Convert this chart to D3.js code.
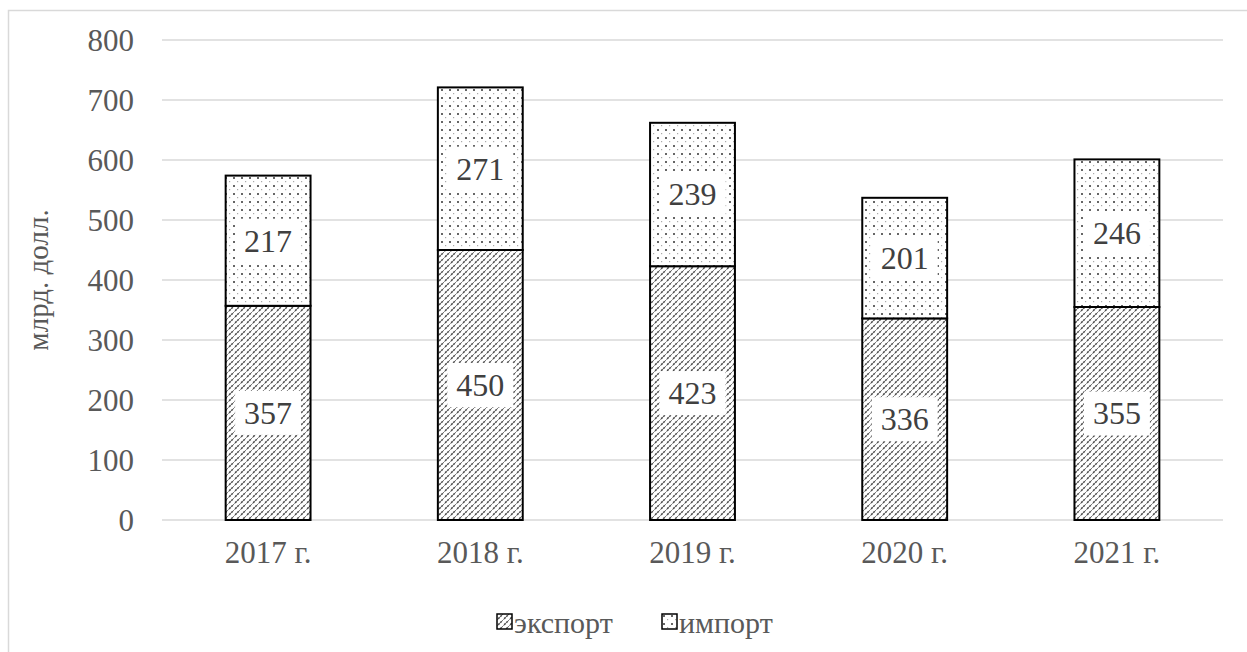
<!DOCTYPE html>
<html>
<head>
<meta charset="utf-8">
<script src="https://cdn.jsdelivr.net/npm/d3@7"></script>
<style>
  body { margin: 0; background: #fff; }
</style>
</head>
<body>
<div id="chart"></div>
<script>
// data
const years = ["2017 г.", "2018 г.", "2019 г.", "2020 г.", "2021 г."];
const exportVals = [357, 450, 423, 336, 355];
const importVals = [217, 271, 239, 201, 246];
const yTicks = [0, 100, 200, 300, 400, 500, 600, 700, 800];
const seriesNames = ["экспорт", "импорт"];

const W = 1247, H = 652;
const plot = {left: 162, right: 1223, top: 40, bottom: 520};
const FONT = "'Liberation Serif', 'Times New Roman', serif";

const svg = d3.select("#chart").append("svg")
    .attr("width", W)
    .attr("height", H)
    .attr("font-family", FONT)
    .style("display", "block");

const defs = svg.append("defs");

// diagonal hatch for export
const hatch = defs.append("pattern")
    .attr("id", "hatch")
    .attr("patternUnits", "userSpaceOnUse")
    .attr("width", 6)
    .attr("height", 6);
hatch.append("rect").attr("width", 6).attr("height", 6).attr("fill", "#fff");
hatch.append("path")
    .attr("d", "M-1,7 L7,-1 M-4,3 L3,-4 M3,10 L10,3")
    .attr("stroke", "#4a4a4a")
    .attr("stroke-width", 1.5)
    .attr("stroke-dasharray", "2.2,0.8");

// dotted fill for import
const dots = defs.append("pattern")
    .attr("id", "dots")
    .attr("patternUnits", "userSpaceOnUse")
    .attr("width", 8)
    .attr("height", 8);
dots.append("rect").attr("width", 8).attr("height", 8).attr("fill", "#fff");
dots.append("rect").attr("x", 1).attr("y", 1).attr("width", 2).attr("height", 2).attr("fill", "#666");
dots.append("rect").attr("x", 5).attr("y", 5).attr("width", 1.2).attr("height", 1.2).attr("fill", "#aaa");

// chart border
svg.append("rect")
    .attr("x", 8.5).attr("y", 10.5)
    .attr("width", W).attr("height", H)
    .attr("fill", "none")
    .attr("stroke", "#d9d9d9")
    .attr("stroke-width", 1.5);

const x = d3.scaleBand()
    .domain(years)
    .range([plot.left, plot.right])
    .paddingInner(0.6)
    .paddingOuter(0.3);

const y = d3.scaleLinear()
    .domain([0, 800])
    .range([plot.bottom, plot.top]);

// gridlines
svg.append("g")
    .selectAll("line")
    .data(yTicks)
    .join("line")
    .attr("x1", plot.left)
    .attr("x2", plot.right)
    .attr("y1", d => y(d))
    .attr("y2", d => y(d))
    .attr("stroke", "#d9d9d9")
    .attr("stroke-width", 1.5);

// y tick labels
svg.append("g")
    .selectAll("text")
    .data(yTicks)
    .join("text")
    .attr("x", 134)
    .attr("y", d => y(d))
    .attr("dy", "0.34em")
    .attr("text-anchor", "end")
    .attr("font-size", 31)
    .attr("fill", "#595959")
    .text(d => d);

// x labels
svg.append("g")
    .selectAll("text")
    .data(years)
    .join("text")
    .attr("x", d => x(d) + x.bandwidth() / 2)
    .attr("y", 563)
    .attr("text-anchor", "middle")
    .attr("font-size", 31)
    .attr("fill", "#595959")
    .text(d => d);

// y axis title
svg.append("text")
    .attr("transform", `translate(48,${(plot.top + plot.bottom) / 2}) rotate(-90)`)
    .attr("text-anchor", "middle")
    .attr("font-size", 29)
    .attr("fill", "#595959")
    .text("млрд. долл.");

const stackData = years.map((yr, i) => ({year: yr, exp: exportVals[i], imp: importVals[i]}));

const bars = svg.append("g");
// export segment
bars.selectAll("rect.exp")
    .data(stackData)
    .join("rect")
    .attr("class", "exp")
    .attr("x", d => x(d.year))
    .attr("y", d => y(d.exp))
    .attr("width", x.bandwidth())
    .attr("height", d => y(0) - y(d.exp))
    .attr("fill", "url(#hatch)")
    .attr("stroke", "#000")
    .attr("stroke-width", 2);
// import segment
bars.selectAll("rect.imp")
    .data(stackData)
    .join("rect")
    .attr("class", "imp")
    .attr("x", d => x(d.year))
    .attr("y", d => y(d.exp + d.imp))
    .attr("width", x.bandwidth())
    .attr("height", d => y(d.exp) - y(d.exp + d.imp))
    .attr("fill", "url(#dots)")
    .attr("stroke", "#000")
    .attr("stroke-width", 2);

// data labels with white boxes
const labels = [];
stackData.forEach(d => {
    labels.push({x: x(d.year) + x.bandwidth() / 2, y: (y(0) + y(d.exp)) / 2, v: d.exp});
    labels.push({x: x(d.year) + x.bandwidth() / 2, y: (y(d.exp) + y(d.exp + d.imp)) / 2, v: d.imp});
});

const lg = svg.append("g").selectAll("g")
    .data(labels)
    .join("g");
lg.append("rect")
    .attr("x", d => d.x - 33)
    .attr("y", d => d.y - 22)
    .attr("width", 66)
    .attr("height", 44)
    .attr("fill", "#fff");
lg.append("text")
    .attr("x", d => d.x)
    .attr("y", d => d.y)
    .attr("dy", "0.34em")
    .attr("text-anchor", "middle")
    .attr("font-size", 32)
    .attr("fill", "#404040")
    .text(d => d.v);

// legend
const legendItems = [
    {name: seriesNames[0], fill: "url(#hatch)", x: 497},
    {name: seriesNames[1], fill: "url(#dots)", x: 662}
];
const leg = svg.append("g").selectAll("g")
    .data(legendItems)
    .join("g")
    .attr("transform", d => `translate(${d.x},614)`);
leg.append("rect")
    .attr("width", 15)
    .attr("height", 15)
    .attr("fill", d => d.fill)
    .attr("stroke", "#000")
    .attr("stroke-width", 1.5);
leg.append("text")
    .attr("x", 17)
    .attr("y", 8)
    .attr("dy", "0.36em")
    .attr("font-size", 30)
    .attr("fill", "#595959")
    .text(d => d.name);
</script>
</body>
</html>
